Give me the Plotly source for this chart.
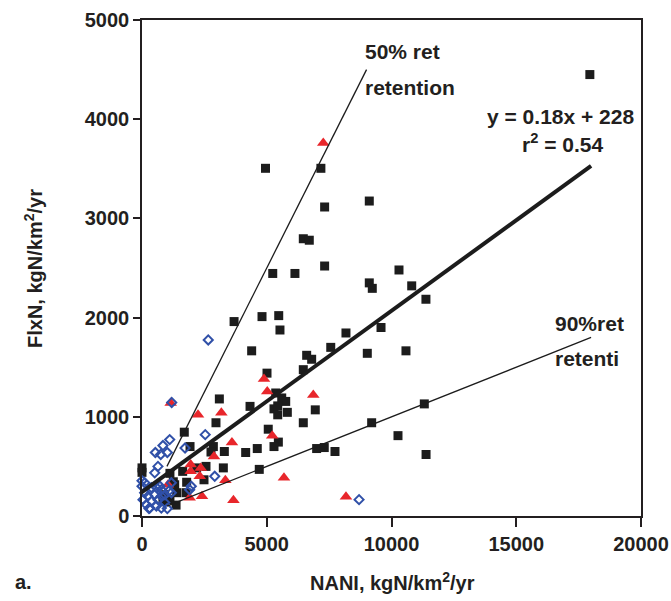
import plotly.graph_objects as go

# ---- data ----
sq_x = [4950, 7170, 7320, 9110, 6465, 6705, 5240, 6130, 7320, 9110, 9230, 4810, 5480, 3690,
        10300, 10810, 11380, 8175, 9580, 9030, 10580, 11315, 9205, 10260, 7735, 11385, 17950,
        5530, 4395, 7565, 6600, 6800, 6465, 5010, 5360, 5600, 5760, 4330, 5290, 5440, 5440, 5825,
        6945, 6465, 5060, 5465, 5290, 4620, 4155, 7000, 7305, 4700,
        3100, 2965, 1695, 1925, 2860, 2765, 3300, 0, 0, 1120, 1630, 2190, 2565, 3260, 1255, 1790,
        2485, 1390, 1765, 1120, 1365, 910, 840, 1310]
sq_y = [3505, 3505, 3115, 3175, 2795, 2780, 2445, 2445, 2520, 2350, 2295, 2010, 2020, 1960,
        2480, 2320, 2185, 1845, 1900, 1640, 1665, 1130, 940, 810, 650, 620, 4450,
        1875, 1665, 1700, 1620, 1580, 1475, 1440, 1240, 1190, 1155, 1105, 1080, 1110, 1020, 1045,
        1070, 940, 875, 745, 700, 680, 640, 680, 690, 470,
        1180, 940, 845, 700, 700, 645, 650, 485, 440, 430, 450, 485, 500, 485, 345, 340,
        365, 235, 235, 165, 110, 215, 150, 315]

tri_x = [7265, 4890, 5020, 6865, 1150, 2245, 3180, 5220, 3605, 2885, 1950, 2355, 1950, 2315,
         3340, 5690, 1040, 1910, 2405, 3665, 8175]
tri_y = [3760, 1380, 1255, 1220, 1140, 1020, 1040, 810, 740, 600, 520, 485, 450, 400,
         360, 385, 315, 185, 200, 160, 195]

dia_x = [2655, 1190, 2535, 1725, 1110, 840, 535, 750, 1015, 640, 510, 0, 1175, 1975, 1910,
         2915, 1070, 8700, 105, 240, 510, 775, 40, 375, 640, 910, 170, 310, 575, 775, 1015,
         0, 375, 1175, 775, 280, 590, 720, 920, 110]
dia_y = [1775, 1145, 820, 685, 770, 710, 640, 620, 640, 500, 435, 355, 335, 300, 265,
         400, 250, 165, 235, 200, 215, 200, 165, 150, 165, 135, 115, 80, 100, 80, 75,
         300, 285, 235, 265, 75, 285, 300, 215, 335]

reg_x = [-240, 18000]
reg_y = [199, 3529]
ret50_x = [1000, 9000]
ret50_y = [500, 4500]
ret90_x = [1000, 18000]
ret90_y = [100, 1800]

x_ticks = [0, 5000, 10000, 15000, 20000]
y_ticks = [0, 1000, 2000, 3000, 4000, 5000]

FONT = "Liberation Sans, Arial, Helvetica, sans-serif"
TXT = "#231f20"

fig = go.Figure()
fig.add_trace(go.Scatter(x=sq_x, y=sq_y, mode="markers", cliponaxis=False,
                         marker=dict(symbol="square", size=9, color="#1c1c1c",
                                     line=dict(width=0))))
fig.add_trace(go.Scatter(x=tri_x, y=tri_y, mode="markers", cliponaxis=False,
                         marker=dict(symbol="triangle-up", size=11, color="#e8262b",
                                     line=dict(width=0))))
fig.add_trace(go.Scatter(x=dia_x, y=dia_y, mode="markers", cliponaxis=False,
                         marker=dict(symbol="diamond-open", size=7, color="#3050a8",
                                     line=dict(width=2, color="#3050a8"))))
fig.add_trace(go.Scatter(x=ret50_x, y=ret50_y, mode="lines",
                         line=dict(color="#1c1c1c", width=1.3)))
fig.add_trace(go.Scatter(x=ret90_x, y=ret90_y, mode="lines",
                         line=dict(color="#1c1c1c", width=1.3)))
fig.add_trace(go.Scatter(x=reg_x, y=reg_y, mode="lines",
                         line=dict(color="#1c1c1c", width=4)))

axis_common = dict(showgrid=False, zeroline=False, showline=True, mirror=True,
                   automargin=False,
                   linecolor="#231f20", ticks="outside", tickcolor="#231f20",
                   tickfont=dict(family=FONT, size=20, color=TXT, weight="bold"))
fig.update_xaxes(range=[0, 20000], tickvals=x_ticks, ticktext=[str(v) for v in x_ticks],
                 linewidth=2, ticklen=9, tickwidth=1.5, **axis_common)
fig.update_yaxes(range=[0, 5000], tickvals=y_ticks, ticktext=[str(v) for v in y_ticks],
                 linewidth=1.5, ticklen=7, tickwidth=1.5, **axis_common)

def ann(text, x, y, xanchor="left", xref="x", yref="y", size=21, textangle=0):
    return dict(text=text, x=x, y=y, xref=xref, yref=yref, xanchor=xanchor,
                yanchor="middle", showarrow=False, textangle=textangle,
                font=dict(family=FONT, size=size, color=TXT, weight="bold"))

annotations = [
    ann("50% ret", 8846, 4680),
    ann("retention", 8846, 4320),
    ann("y = 0.18x + 228", 16776, 4030, xanchor="center"),
    ann("r<sup>2</sup> = 0.54", 16836, 3765, xanchor="center"),
    ann("90%ret", 16473, 1940),
    ann("retenti", 16473, 1590),
    ann("NANI, kgN/km<sup>2</sup>/yr", 0.503, -0.133, xanchor="center", xref="paper", yref="paper", size=20),
    ann("a.", -0.2585, -0.133, xanchor="left", xref="paper", yref="paper", size=20),
    ann("FlxN, kgN/km<sup>2</sup>/yr", -0.2164, 0.498, xanchor="center", xref="paper", yref="paper",
        size=20, textangle=-90),
]

fig.update_layout(width=671, height=601, margin=dict(l=142, r=30, t=20, b=85, autoexpand=False),
                  paper_bgcolor="white", plot_bgcolor="white", showlegend=False,
                  annotations=annotations)

fig.write_html("out.html")
